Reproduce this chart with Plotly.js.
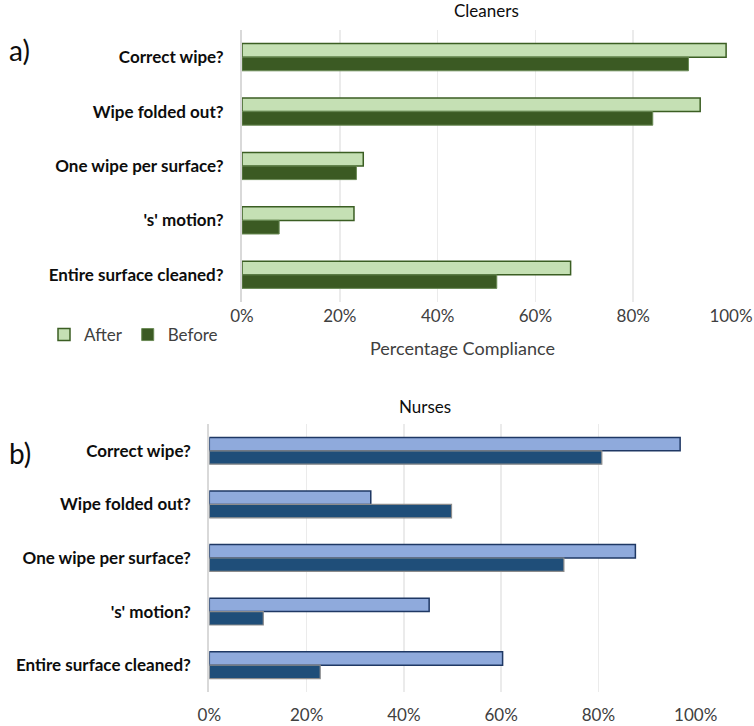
<!DOCTYPE html>
<html>
<head>
<meta charset="utf-8">
<script src="https://cdn.plot.ly/plotly-3.0.1.min.js"></script>
<style>html,body{margin:0;padding:0;background:#fff;}#chart{width:754px;height:726px;}</style>
</head>
<body>
<div id="chart"></div>
<script>
// ---- Data ----
const categories = ["Correct wipe?", "Wipe folded out?", "One wipe per surface?", "'s' motion?", "Entire surface cleaned?"];
const cleanersAfter  = [0.990, 0.937, 0.248, 0.229, 0.672];
const cleanersBefore = [0.913, 0.840, 0.234, 0.076, 0.521];
const nursesAfter    = [0.968, 0.332, 0.876, 0.452, 0.603];
const nursesBefore   = [0.807, 0.498, 0.729, 0.111, 0.228];
const tickVals = [0, 0.2, 0.4, 0.6, 0.8, 1.0];
const tickText = ["0%", "20%", "40%", "60%", "80%", "100%"];
const seriesNames = ["After", "Before"];
const panelTitles = ["Cleaners", "Nurses"];
const panelLetters = ["a)", "b)"];
const xAxisTitle = "Percentage Compliance";

// ---- Layout helpers ----
const W = 754, H = 726;
const px = x => x / W;
const py = y => 1 - y / H;
const FONT = "Lato, 'Open Sans', sans-serif";

const traces = [
  {type:'bar', orientation:'h', name:seriesNames[0], y:categories, x:cleanersAfter, xaxis:'x', yaxis:'y',
   marker:{color:'#c5e0b4', line:{color:'#3b5e23', width:1.5}}},
  {type:'bar', orientation:'h', name:seriesNames[1], y:categories, x:cleanersBefore, xaxis:'x', yaxis:'y',
   marker:{color:'#3b5a23', line:{color:'#6a8a55', width:1}}},
  {type:'bar', orientation:'h', name:seriesNames[0], y:categories, x:nursesAfter, xaxis:'x2', yaxis:'y2', showlegend:false,
   marker:{color:'#8faadc', line:{color:'#1f3864', width:1.5}}},
  {type:'bar', orientation:'h', name:seriesNames[1], y:categories, x:nursesBefore, xaxis:'x2', yaxis:'y2', showlegend:false,
   marker:{color:'#1f4e79', line:{color:'#8c8c8c', width:1.2}}}
];

const xCommon = {range:[0,1], tickvals:tickVals, ticktext:tickText, showgrid:true, gridcolor:'#ebebeb', gridwidth:1.5,
  zeroline:false, showline:false, ticks:'', tickfont:{family:FONT, size:17, color:'#404040'}, fixedrange:true};
const yCommon = {autorange:'reversed', type:'category', showgrid:false, zeroline:false, showline:true, linecolor:'#d9d9d9', linewidth:2,
  ticks:'', tickfont:{family:FONT, size:17, color:'#0d0d0d', weight:'bold'}, ticklabelstandoff:13, fixedrange:true};

const layout = {
  width: W, height: H,
  margin:{l:0, r:0, t:0, b:0},
  paper_bgcolor:'#ffffff', plot_bgcolor:'#ffffff',
  barmode:'group', bargap:0.5, bargroupgap:0,
  showlegend:true,
  legend:{orientation:'h', x:px(44), y:py(335), xanchor:'left', yanchor:'middle', font:{family:FONT, size:17, color:'#404040'},
    traceorder:'normal', bgcolor:'rgba(0,0,0,0)'},
  xaxis: Object.assign({}, xCommon, {domain:[px(242), px(731)], anchor:'y', ticklabelstandoff:2}),
  yaxis: Object.assign({}, yCommon, {domain:[py(302), py(30)], anchor:'x'}),
  xaxis2: Object.assign({}, xCommon, {domain:[px(209.3), px(695.7)], anchor:'y2', ticklabelstandoff:11}),
  yaxis2: Object.assign({}, yCommon, {domain:[py(692), py(424)], anchor:'x2'}),
  annotations:[
    {text:panelTitles[0], xref:'paper', yref:'paper', x:px(486), y:py(10), xanchor:'center', yanchor:'middle', showarrow:false,
     font:{family:FONT, size:17, color:'#0d0d0d'}},
    {text:panelTitles[1], xref:'paper', yref:'paper', x:px(425), y:py(407), xanchor:'center', yanchor:'middle', showarrow:false,
     font:{family:FONT, size:17, color:'#0d0d0d'}},
    {text:xAxisTitle, xref:'paper', yref:'paper', x:px(462), y:py(348), xanchor:'center', yanchor:'middle', showarrow:false,
     font:{family:FONT, size:18, color:'#404040'}},
    {text:panelLetters[0], xref:'paper', yref:'paper', x:px(7), y:py(50), xanchor:'left', yanchor:'middle', showarrow:false,
     font:{family:FONT, size:28, color:'#0d0d0d'}},
    {text:panelLetters[1], xref:'paper', yref:'paper', x:px(7), y:py(453), xanchor:'left', yanchor:'middle', showarrow:false,
     font:{family:FONT, size:28, color:'#0d0d0d'}}
  ]
};

Plotly.newPlot('chart', traces, layout, {displayModeBar:false, staticPlot:true});
</script>
</body>
</html>
